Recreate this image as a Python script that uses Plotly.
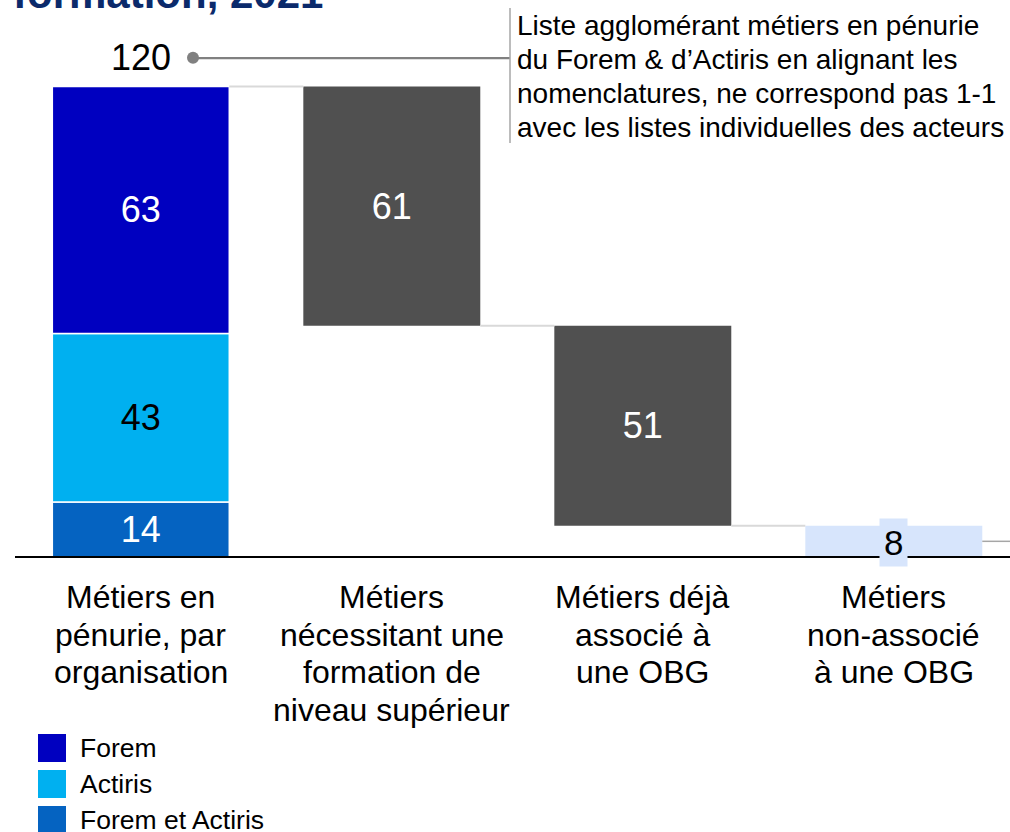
import plotly.graph_objects as go

# ---------------- data ----------------
categories = [
    ["Métiers en", "pénurie, par", "organisation"],
    ["Métiers", "nécessitant une", "formation de", "niveau supérieur"],
    ["Métiers déjà", "associé à", "une OBG"],
    ["Métiers", "non-associé", "à une OBG"],
]
org_names = ["Forem et Actiris", "Actiris", "Forem"]      # stacked bottom -> top
org_values = [14, 43, 63]
org_colors = ["#0563C1", "#00B0F0", "#0000C0"]
org_text_colors = ["white", "black", "white"]
legend_order = ["Forem", "Actiris", "Forem et Actiris"]

step_names = ["Métiers nécessitant une formation de niveau supérieur",
              "Métiers déjà associé à une OBG",
              "Métiers non-associé à une OBG"]
step_values = [61, 51, 8]
title_text = "formation, 2021"
note_lines = [
    "Liste agglomérant métiers en pénurie",
    "du Forem & d\u2019Actiris en alignant les",
    "nomenclatures, ne correspond pas 1-1",
    "avec les listes individuelles des acteurs",
]

# ---------------- geometry helpers ----------------
W, H = 1010, 832
X0, XS = 140.8, 251.0      # pixel of category 0, pixels per category
Y0, YS = 557.0, 3.921      # pixel of value 0, pixels per unit
BW = 0.705                 # bar width (category units)
FONT = "Liberation Sans, Arial, sans-serif"


def dx(px):
    return (px - X0) / XS


def dy(py):
    return (Y0 - py) / YS


def paper_x(px):
    return px / W


def paper_y(py):
    return 1 - py / H


total = sum(org_values)
base2 = total - step_values[0]
base3 = base2 - step_values[1]
step_bases = [base2, base3, 0]

fig = go.Figure()

# stacked first bar
cum = 0
for name, val, col, tcol in zip(org_names, org_values, org_colors, org_text_colors):
    fig.add_trace(go.Bar(
        x=[0], y=[val], base=[cum], width=BW, name=name,
        marker=dict(color=col, line=dict(color="white", width=1.5)),
        text=[str(val)], textposition="inside", insidetextanchor="middle",
        textfont=dict(family=FONT, size=36, color=tcol),
        showlegend=False, hoverinfo="skip",
    ))
    cum += val

# waterfall steps
step_colors = ["#505050", "#505050", "#D7E5FC"]
for i, (name, val, b, col) in enumerate(zip(step_names, step_values, step_bases, step_colors)):
    fig.add_trace(go.Bar(
        x=[i + 1], y=[val], base=[b], width=BW, name=name,
        marker=dict(color=col, line=dict(width=0)),
        text=[str(val)] if i < 2 else None,
        textposition="inside" if i < 2 else "none",
        insidetextanchor="middle",
        textfont=dict(family=FONT, size=36, color="white"),
        showlegend=False, hoverinfo="skip",
    ))

# total marker dot
fig.add_trace(go.Scatter(
    x=[dx(193)], y=[dy(57.7)], mode="markers",
    marker=dict(size=12, color="#808080"), showlegend=False, hoverinfo="skip"))

shapes = []
# axis baseline
shapes.append(dict(type="line", xref="x", yref="y", x0=dx(15), x1=dx(1010), y0=0, y1=0,
                   line=dict(color="black", width=2)))
# connectors
levels = [total, base2, base3]
for i, lv in enumerate(levels):
    shapes.append(dict(type="line", xref="x", yref="y", x0=i + BW / 2, x1=i + 1 - BW / 2,
                       y0=lv, y1=lv, line=dict(color="#D9D9D9", width=2)))
shapes.append(dict(type="line", xref="x", yref="y", x0=3 + BW / 2, x1=dx(1010),
                   y0=step_values[2] / 2, y1=step_values[2] / 2,
                   line=dict(color="#A6A6A6", width=1.5)))
# callout lines
shapes.append(dict(type="line", xref="x", yref="y", x0=dx(193), x1=dx(510),
                   y0=dy(58.2), y1=dy(58.2), line=dict(color="#808080", width=2.2)))
shapes.append(dict(type="line", xref="x", yref="y", x0=dx(510), x1=dx(510),
                   y0=dy(8), y1=dy(143), line=dict(color="#A6A6A6", width=1.5)))

annotations = []
# title (cut off at top)
annotations.append(dict(xref="paper", yref="paper", x=paper_x(11), y=paper_y(-7),
                        xanchor="left", yanchor="middle", text="<b>" + title_text + "</b>",
                        showarrow=False, font=dict(family=FONT, size=42, color="#0B2A6B")))
# total label
annotations.append(dict(xref="paper", yref="paper", x=paper_x(141), y=paper_y(57.5),
                        xanchor="center", yanchor="middle", text=str(total), showarrow=False,
                        font=dict(family=FONT, size=36, color="black")))
# note
for i, line in enumerate(note_lines):
    annotations.append(dict(xref="paper", yref="paper", x=paper_x(515), y=paper_y(25.3 + 34 * i),
                            xanchor="left", yanchor="middle", text=line, showarrow=False,
                            font=dict(family=FONT, size=28, color="black")))
# last bar label with background
annotations.append(dict(xref="paper", yref="paper", x=paper_x(X0 + 3 * XS), y=paper_y(542.5),
                        xanchor="center", yanchor="middle", text=str(step_values[2]),
                        showarrow=False, bgcolor="#D7E5FC", borderpad=4,
                        font=dict(family=FONT, size=35, color="black")))
# category labels
for i, lines in enumerate(categories):
    for j, line in enumerate(lines):
        annotations.append(dict(xref="paper", yref="paper", x=paper_x(X0 + i * XS),
                                y=paper_y(597.2 + 37.5 * j), xanchor="center", yanchor="middle",
                                text=line, showarrow=False,
                                font=dict(family=FONT, size=32, color="black")))
# legend (manual)
color_of = dict(zip(org_names, org_colors))
for k, name in enumerate(legend_order):
    cy = 748 + 36 * k
    shapes.append(dict(type="rect", xref="paper", yref="paper",
                       x0=paper_x(38), x1=paper_x(66), y0=paper_y(cy - 14), y1=paper_y(cy + 14),
                       fillcolor=color_of[name], line=dict(width=0)))
    annotations.append(dict(xref="paper", yref="paper", x=paper_x(78), y=paper_y(cy),
                            xanchor="left", yanchor="middle", text=name, showarrow=False,
                            font=dict(family=FONT, size=26.5, color="black")))

fig.update_layout(
    width=W, height=H,
    margin=dict(l=0, r=0, t=0, b=0, pad=0),
    paper_bgcolor="white", plot_bgcolor="white",
    barmode="overlay",
    showlegend=False,
    xaxis=dict(range=[dx(0), dx(W)], visible=False, fixedrange=True),
    yaxis=dict(range=[dy(H), dy(0)], visible=False, fixedrange=True),
    shapes=shapes, annotations=annotations,
    font=dict(family=FONT),
)

fig.write_html("out.html", config={"displayModeBar": False},
               post_script="document.body.style.margin='0px';")
